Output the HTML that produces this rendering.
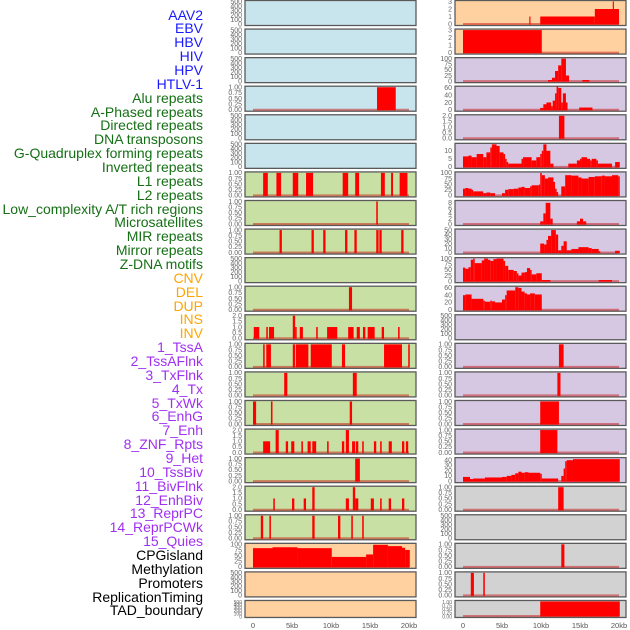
<!DOCTYPE html>
<html><head><meta charset="utf-8"><style>
html,body{margin:0;padding:0;background:#fff;width:630px;height:630px;overflow:hidden}
.lab{position:absolute;right:427px;font:14px "Liberation Sans",sans-serif;white-space:nowrap;line-height:14px}
svg{position:absolute;left:0;top:0}
</style></head><body>
<div id="labels"></div>
<svg id="chart" width="630" height="630"></svg>
<script>
const labelNames = ["AAV2","EBV","HBV","HIV","HPV","HTLV-1","Alu repeats","A-Phased repeats","Directed repeats","DNA transposons","G-Quadruplex forming repeats","Inverted repeats","L1 repeats","L2 repeats","Low_complexity A/T rich regions","Microsatellites","MIR repeats","Mirror repeats","Z-DNA motifs","CNV","DEL","DUP","INS","INV","1_TssA","2_TssAFlnk","3_TxFlnk","4_Tx","5_TxWk","6_EnhG","7_Enh","8_ZNF_Rpts","9_Het","10_TssBiv","11_BivFlnk","12_EnhBiv","13_ReprPC","14_ReprPCWk","15_Quies","CPGisland","Methylation","Promoters","ReplicationTiming","TAD_boundary"];
const labelGroups = ["v","v","v","v","v","v","r","r","r","r","r","r","r","r","r","r","r","r","r","s","s","s","s","s","c","c","c","c","c","c","c","c","c","c","c","c","c","c","c","o","o","o","o","o"];
const xTickValues = [0,5,10,15,20];
const xTickLabels = ["0","5kb","10kb","15kb","20kb"];
const ticksK = [0,100,200,300,400,500];
const ticksU = [0,0.25,0.5,0.75,1];
const ticks2 = [0,0.5,1,1.5,2];
const ticks3 = [0,1,2,3];
const ticks100 = [0,25,50,75,100];
// left column segments [startKb, endKb, value]
const L3 = [[15.9,18.3,1]];
const L6 = [[1.3,1.9,1],[3.0,3.6,1],[5.1,5.8,1],[6.8,7.7,1],[11.5,12.2,1],[13.1,13.6,1],[16.4,16.9,1],[17.7,17.95,1],[18.8,19.8,1]];
const L7 = [[15.8,16.0,1]];
const L8 = [[3.4,3.7,1],[7.5,7.8,1],[9.0,9.3,1],[11.8,12.1,1],[13.0,13.3,1],[15.8,16.1,1],[16.2,16.5,1],[19.0,19.3,1]];
const L10 = [[12.3,12.7,1]];
const L11 = [[0.1,0.8,1],[1.7,1.9,1],[2.05,2.7,1],[5.1,5.4,2],[5.4,5.6,1],[6.0,6.4,1],[8.1,8.3,1],[9.5,10.8,1],[12.2,12.9,1],[13.3,13.7,1],[14.1,14.4,1],[14.7,15.6,1],[16.5,16.8,1],[18.6,18.8,1]];
const L12 = [[1.3,1.5,1],[1.7,2.3,1],[5.1,5.4,1],[5.5,7.1,1],[7.4,10.1,1],[11.4,11.8,1],[16.8,19.1,1],[19.9,20.1,1]];
const L13 = [[4.0,4.4,1],[12.8,13.3,1]];
const L14 = [[0.0,0.4,1],[2.3,2.5,1],[12.4,12.7,1]];
const L15 = [[1.3,2.2,1],[2.9,3.3,2],[4.2,4.5,1],[4.9,5.3,1],[6.2,6.4,1],[7.0,7.4,1],[7.6,8.1,1],[9.5,9.7,1],[11.4,11.7,1],[11.9,12.3,2],[12.7,13.1,1],[13.2,13.5,1],[14.0,14.2,1],[15.5,15.8,1],[16.3,16.5,1],[17.4,17.8,1],[19.1,19.4,1],[19.6,19.9,1]];
const L16 = [[13.1,13.7,1]];
const L17 = [[2.6,2.8,1],[5.0,5.3,1],[6.5,6.8,1],[7.6,7.9,2],[11.9,12.3,1],[12.8,13.1,2],[13.1,13.5,1],[15.1,15.5,1],[16.3,16.5,1],[17.4,17.7,1],[19.1,19.4,1]];
const L18 = [[1.0,1.3,1],[2.1,2.3,1],[7.6,7.9,1],[10.9,11.2,1],[12.6,12.8,1],[14.0,14.2,1]];
const L19 = [[0,2.5,83],[2.5,5.7,87],[5.7,10.1,83],[10.1,14.5,44],[14.5,15.4,55],[15.4,17.3,98],[17.3,19.1,92],[19.1,19.5,85],[19.5,20.1,75]];
// right column segments
const R0 = [[8.5,8.65,1],[9.9,16.9,1],[16.9,20.0,2],[19.2,19.35,3]];
const R1 = [[0,10.1,3]];
const R2 = [[10.9,11.4,5],[11.4,11.8,15],[11.8,12.2,45],[12.2,12.6,70],[12.6,13.2,100],[13.2,13.6,25],[15.3,16.2,5]];
const R3 = [[9.9,10.3,5],[10.3,10.7,15],[10.7,11.3,20],[11.3,11.5,10],[11.5,11.8,25],[11.8,12.0,45],[12.0,12.2,65],[12.2,12.6,60],[12.6,12.8,20],[12.8,13.2,45],[13.2,13.4,20],[14.9,16.6,6]];
const R4 = [[12.3,13.0,2]];
const R5 = [[0,0.7,6.5],[0.7,1.1,7],[1.1,1.75,6],[1.75,2.6,8],[2.6,3.0,6],[3.0,3.5,9],[3.5,3.7,12],[3.7,4.3,14],[4.3,4.7,13],[4.7,5.2,9],[5.2,5.4,8],[5.4,5.6,5],[5.6,5.8,3],[5.8,7.5,2],[7.5,7.7,5],[7.7,8.8,6],[8.8,9.4,4],[9.4,9.9,6],[9.9,10.1,8],[10.1,10.3,10],[10.3,10.7,14],[10.7,11.2,10],[11.2,11.6,2],[13.5,14.6,2],[14.6,15.0,4],[15.0,15.2,5],[15.2,15.9,6],[15.9,16.3,5],[16.3,16.5,4],[16.5,17.1,5],[17.1,17.3,4],[17.3,19.1,2],[19.5,20.1,3]];
const R6 = [[0,0.3,30],[0.3,0.7,33],[0.7,1.1,30],[1.1,1.3,25],[1.3,2.6,18],[2.6,3.0,10],[3.0,3.5,13],[3.5,4.1,10],[5.0,5.4,10],[5.4,5.8,25],[5.8,6.5,28],[6.5,7.1,30],[7.1,7.5,35],[7.5,7.9,38],[7.9,8.6,33],[8.6,8.8,40],[8.8,9.7,45],[9.7,9.9,48],[9.9,10.1,100],[10.1,10.5,90],[10.5,10.9,75],[10.9,11.6,80],[11.6,11.8,60],[11.8,12.0,30],[12.0,12.2,15],[12.6,13.1,40],[13.1,13.9,90],[13.9,14.8,88],[14.8,15.2,80],[15.2,16.1,75],[16.1,16.9,82],[16.9,17.8,85],[17.8,18.2,88],[18.2,19.1,85],[19.1,19.9,90],[19.9,20.1,85]];
const R7 = [[9.9,10.3,1],[10.3,10.6,4],[10.6,11.2,8],[11.2,11.5,2],[14.6,15.0,1],[15.0,15.4,2],[15.4,15.8,1]];
const R8 = [[9.9,10.4,20],[10.4,10.7,18],[10.7,10.9,28],[10.9,11.3,37],[11.3,11.9,50],[11.9,12.2,40],[12.2,12.6,5],[12.6,12.9,15],[12.9,13.3,25],[13.3,13.9,5],[13.9,14.8,8],[14.8,16.1,12],[16.1,16.5,10],[16.5,17.4,8],[17.4,17.6,3],[19.5,20.1,4]];
const R9 = [[0,0.3,60],[0.3,0.7,55],[0.7,1.0,62],[1.0,1.3,95],[1.3,1.5,100],[1.5,2.4,80],[2.4,2.7,92],[2.7,3.2,100],[3.2,3.5,95],[3.5,3.9,90],[3.9,4.3,98],[4.3,5.2,100],[5.2,5.4,90],[5.4,5.8,68],[5.8,6.5,50],[6.5,6.9,45],[6.9,7.1,35],[7.1,7.5,25],[7.5,7.9,38],[7.9,8.2,40],[8.2,8.6,58],[8.6,8.8,50],[8.8,9.4,30],[9.4,10.1,35],[10.1,11.2,5],[17.4,19.1,5]];
const R10 = [[0,0.3,40],[0.3,1.1,42],[1.1,2.6,30],[2.6,2.8,25],[2.8,3.5,22],[3.5,3.7,25],[3.7,4.1,23],[4.1,5.0,20],[5.0,5.4,28],[5.4,5.6,40],[5.6,6.7,53],[6.7,7.1,62],[7.1,7.5,60],[7.5,7.9,50],[7.9,8.2,45],[8.2,8.6,42],[8.6,9.2,45],[9.2,10.1,42]];
const R12 = [[12.3,12.9,1]];
const R13 = [[12.1,12.5,1]];
const R14 = [[9.9,12.3,1]];
const R15 = [[9.9,12.1,1]];
const R16 = [[0,0.9,8],[0.9,1.3,4],[1.3,2.8,5],[2.8,5.0,7],[5.0,5.6,8],[5.6,6.2,10],[6.2,6.7,12],[6.7,7.1,15],[7.1,7.5,18],[7.5,7.9,16],[7.9,8.4,17],[8.4,9.9,16],[9.9,10.1,14],[10.1,12.2,5],[12.6,12.9,10],[12.9,13.1,24],[13.1,13.3,38],[13.3,14.1,40],[14.1,20.1,42]];
const R17 = [[12.2,12.9,1]];
const R19 = [[12.6,13.0,1]];
const R20 = [[1.0,1.4,1],[2.6,2.8,1]];
const R21 = [[9.9,20.1,1]];

const COL = {b:"#c8e4ec",g:"#c8e0a3",p:"#ffd1a0",u:"#d6c8e2",y:"#d2d2d2"};
// [segments, ymax, ticks, color, decimals]
const leftPanels = [
 [null,500,ticksK,"b",0],[null,500,ticksK,"b",0],[null,500,ticksK,"b",0],[L3,1,ticksU,"b",2],[null,500,ticksK,"b",0],[null,500,ticksK,"b",0],
 [L6,1,ticksU,"g",2],[L7,1,ticksU,"g",2],[L8,1,ticksU,"g",2],[null,500,ticksK,"g",0],[L10,1,ticksU,"g",2],[L11,2,ticks2,"g",1],
 [L12,1,ticksU,"g",2],[L13,1,ticksU,"g",2],[L14,1,ticksU,"g",2],[L15,2,ticks2,"g",1],[L16,1,ticksU,"g",2],[L17,2,ticks2,"g",1],[L18,1,ticksU,"g",2],
 [L19,100,ticks100,"p",0],[null,500,ticksK,"p",0],[null,500,ticksK,"p",0]];
const rightPanels = [
 [R0,3,ticks3,"p",0],[R1,3,ticks3,"p",0],[R2,100,ticks100,"u",0],[R3,62,[0,20,40,60],"u",0],[R4,2,ticks2,"u",1],[R5,14,[0,5,10],"u",0],
 [R6,100,ticks100,"u",0],[R7,8.5,[0,2,4,6,8],"u",0],[R8,50,[0,10,20,30,40,50],"u",0],[R9,100,ticks100,"u",0],[R10,62,[0,20,40,60],"u",0],[null,500,ticksK,"u",0],
 [R12,1,ticksU,"u",2],[R13,1,ticksU,"u",2],[R14,1,ticksU,"u",2],[R15,1,ticksU,"u",2],[R16,43,[0,10,20,30,40],"u",0],
 [R17,1,ticksU,"y",2],[null,500,ticksK,"y",0],[R19,1,ticksU,"y",2],[R20,1,ticksU,"y",2],[R21,1,ticksU,"y",2]];

const NS="http://www.w3.org/2000/svg";
const svg=document.getElementById("chart");
function mk(tag,attrs,parent){const e=document.createElementNS(NS,tag);for(const k in attrs)e.setAttribute(k,attrs[k]);(parent||svg).appendChild(e);return e;}

const labColors={v:"#1a1aff",r:"#157015",s:"#ffa500",c:"#a030f0",o:"#000"};
const labDiv=document.getElementById("labels");
labelNames.forEach((t,i)=>{
  const d=document.createElement("div");
  d.className="lab";
  d.style.top=(15+i*13.86-7.5)+"px";
  d.style.color=labColors[labelGroups[i]];
  d.textContent=t;
  
  
  labDiv.appendChild(d);
});

function drawColumn(panels,left,right,x0){
  const xs=kb=>x0+kb*7.8;
  panels.forEach((p,i)=>{
    const [segs,ymax,ticks,c,dec]=p;
    const top=i*28.57+0.5, h=(i===21)?17:25;
    const g=mk("g",{});
    
    
    mk("rect",{x:left,y:top,width:right-left,height:h,fill:COL[c],stroke:"#5a5a5a","stroke-width":1.3},g);
    const yb=top+h-1.5, yt=top+1;
    const ys=v=>yb-(v/ymax)*(yb-yt);
    ticks.forEach(t=>{
      const tx=mk("text",{x:left-3,y:ys(t)+2.3,"text-anchor":"end","font-size":(i===21?5:7),fill:"#666","font-family":"Liberation Sans, sans-serif"},g);
      tx.textContent=t.toFixed(dec);
      
      
    });
    if(segs){
      const bl=mk("line",{x1:xs(0),x2:xs(20),y1:yb,y2:yb,stroke:"rgba(200,0,0,0.45)","stroke-width":2},g);
      
      
      segs.forEach(s=>{
        const r=mk("rect",{x:xs(s[0]),y:ys(s[2]),width:Math.max(1,xs(s[1])-xs(s[0])),height:yb-ys(s[2])+0.5,fill:"#ff0000"},g);
        
        
      });
    }
  });
  xTickValues.forEach((v,j)=>{
    const t=mk("text",{x:xs(v),y:628,"text-anchor":"middle","font-size":7.5,fill:"#555","font-family":"Liberation Sans, sans-serif"});
    t.textContent=xTickLabels[j];
    
    
  });
}
drawColumn(leftPanels,245,416,253);
drawColumn(rightPanels,455,626,463);
</script>
</body></html>
